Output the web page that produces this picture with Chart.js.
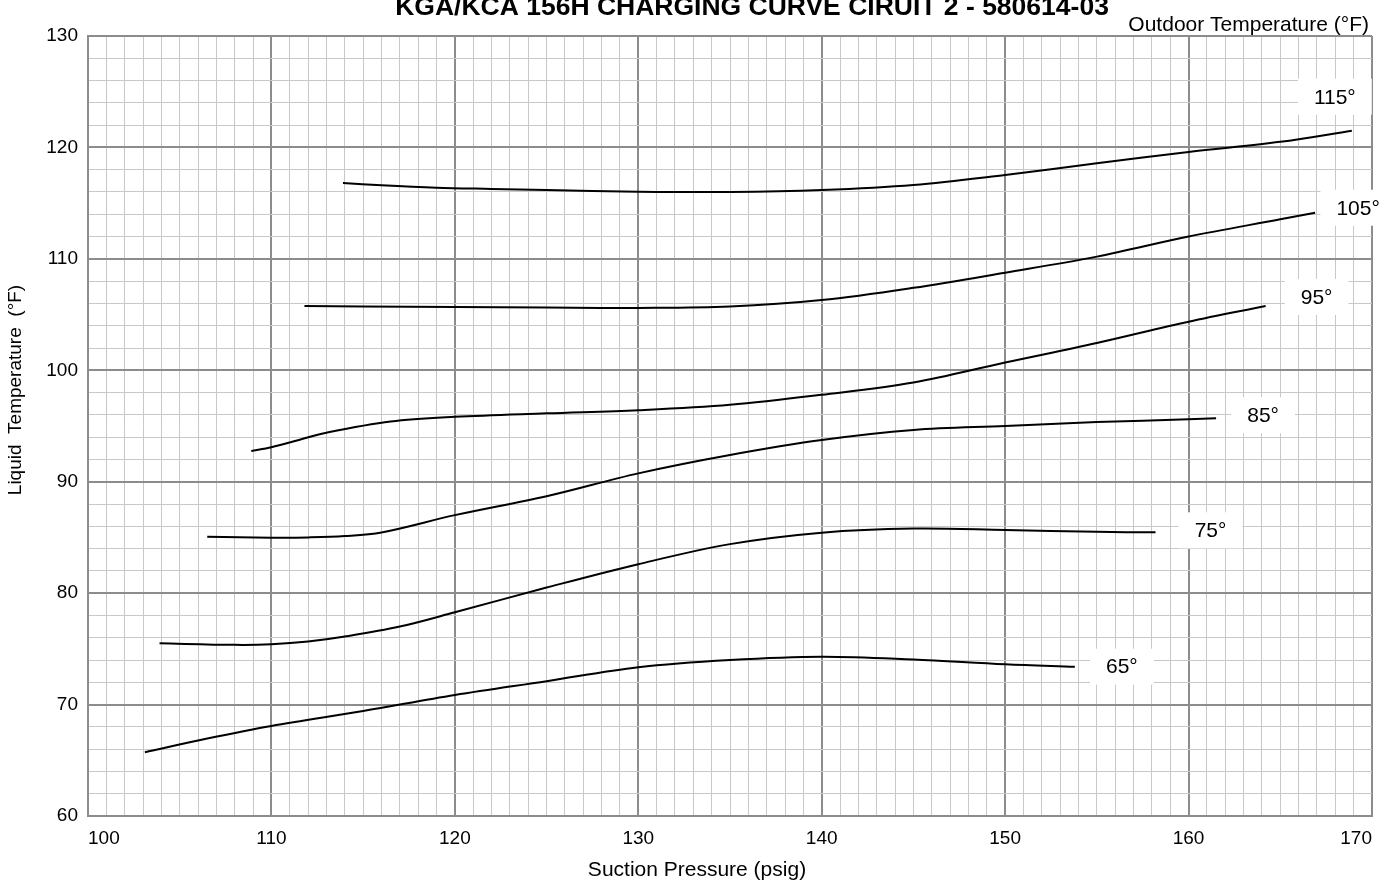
<!DOCTYPE html>
<html>
<head>
<meta charset="utf-8">
<script src="https://cdn.jsdelivr.net/npm/chart.js@4.4.0/dist/chart.umd.min.js"></script>
<style>
  html, body { margin: 0; padding: 0; background: #fff; }
</style>
</head>
<body>
<canvas id="charging-Chart" width="1384" height="880"></canvas>
<script>
// outdoor temperature curves: suction pressure (psig) -> liquid temperature (°F)
const tempLabels = ['115°', '105°', '95°', '85°', '75°', '65°'];

const press115 = [113.9, 116, 119, 122, 125, 130, 135, 140, 145, 150, 155, 160, 165, 168.9];
const liq115   = [116.8, 116.6, 116.39, 116.28, 116.18, 116.03, 116.0, 116.18, 116.63, 117.53, 118.57, 119.6, 120.5, 121.5];

const press105 = [111.8, 115, 120, 125, 130, 135, 140, 145, 150, 155, 160, 165, 166.9];
const liq105   = [105.77, 105.72, 105.68, 105.63, 105.6, 105.72, 106.3, 107.4, 108.76, 110.2, 112.0, 113.55, 114.14];

const press95 = [108.9, 110, 111.5, 113, 116.5, 120, 125, 130, 135, 140, 145, 150, 155, 160, 164.2];
const liq95   = [92.76, 93.1, 93.75, 94.4, 95.4, 95.82, 96.14, 96.42, 96.9, 97.8, 98.9, 100.7, 102.45, 104.36, 105.77];

const press85 = [106.5, 110, 112, 114, 116, 120, 125, 130, 135, 140, 145, 150, 155, 160, 161.5];
const liq85   = [85.07, 84.98, 85.0, 85.12, 85.45, 87.0, 88.7, 90.75, 92.4, 93.74, 94.64, 95.0, 95.35, 95.6, 95.69];

const press75 = [103.9, 108, 110, 112, 114, 117, 120, 125, 130, 135, 140, 145, 150, 155, 158.2];
const liq75   = [75.5, 75.36, 75.41, 75.65, 76.1, 77.0, 78.28, 80.5, 82.6, 84.4, 85.43, 85.8, 85.67, 85.5, 85.46];

const press65 = [103.1, 106.5, 110, 115, 120, 125, 130, 135, 140, 145, 150, 153.8];
const liq65   = [65.72, 66.95, 68.08, 69.42, 70.86, 72.1, 73.35, 74.0, 74.3, 74.05, 73.62, 73.4];

const curves = [
    [press115, liq115], [press105, liq105], [press95, liq95],
    [press85, liq85], [press75, liq75], [press65, liq65]
];

const FONT = 'Liberation Sans, Arial, Helvetica, sans-serif';
const MAJOR = '#8c8c8c';
const MINOR = '#c8c8c8';

// white label boxes next to the end of each curve
const curveLabels = {
    id: 'curveLabels',
    afterDatasetsDraw(chart) {
        const c = chart.ctx;
        const offs = [[-17, -34], [43, -5], [51, -9], [47, -3], [55, -2], [47, 0]];
        c.save();
        c.font = '21px ' + FONT;
        c.textAlign = 'center';
        c.textBaseline = 'middle';
        tempLabels.forEach((txt, i) => {
            const pts = chart.getDatasetMeta(i).data;
            const last = pts[pts.length - 1];
            const x = last.x + offs[i][0];
            const y = last.y + offs[i][1];
            const w = c.measureText(txt).width + 32;
            c.fillStyle = '#fff';
            c.fillRect(x - w / 2, y - 18, w, 36);
            c.fillStyle = '#000';
            c.fillText(txt, x, y + 1);
        });
        c.restore();
    }
};

const extraText = {
    id: 'extraText',
    afterDraw(chart) {
        const c = chart.ctx;
        const ca = chart.chartArea;
        c.save();
        c.fillStyle = '#000';
        c.textBaseline = 'alphabetic';
        c.font = 'bold 26.5px ' + FONT;
        c.textAlign = 'center';
        c.fillText('KGA/KCA 156H CHARGING CURVE CIRUIT 2 - 580614-03', 752, 15);
        c.font = '21px ' + FONT;
        c.textAlign = 'right';
        c.fillText('Outdoor Temperature (°F)', ca.right - 3, 31);
        c.font = '21px ' + FONT;
        c.textAlign = 'center';
        c.fillText('Suction Pressure (psig)', (ca.left + ca.right) / 2 - 33, 876);
        c.translate(16, 390);
        c.rotate(-Math.PI / 2);
        c.font = '19px ' + FONT;
        c.textBaseline = 'middle';
        c.fillText('Liquid  Temperature  (°F)', 0, 0);
        c.restore();
    }
};

const gridColor = ctx => (ctx.tick && ctx.tick.value % 10 === 0) ? MAJOR : MINOR;
const gridWidth = ctx => (ctx.tick && ctx.tick.value % 10 === 0) ? 2 : 1;

const ctx = document.getElementById('charging-Chart').getContext('2d');
const myChart = new Chart(ctx, {
    type: 'scatter',
    data: {
        datasets: curves.map((cv, i) => ({
            label: tempLabels[i],
            data: cv[0].map((p, j) => ({ x: p, y: cv[1][j] })),
            showLine: true,
            borderColor: '#000',
            backgroundColor: '#000',
            borderWidth: 2,
            pointRadius: 0,
            tension: 0.35,
            clip: false
        }))
    },
    options: {
        responsive: false,
        animation: false,
        layout: { padding: { top: 36, right: 12, left: 0, bottom: 0 } },
        plugins: {
            legend: { display: false },
            tooltip: { enabled: false }
        },
        scales: {
            x: {
                type: 'linear',
                min: 100,
                max: 170,
                afterFit: s => { s.height = 64; },
                ticks: {
                    stepSize: 1,
                    autoSkip: false,
                    maxRotation: 0,
                    align: 'inner',
                    padding: 11,
                    color: '#000',
                    font: { family: FONT, size: 19 },
                    callback: v => v % 10 === 0 ? v : ''
                },
                grid: { color: gridColor, lineWidth: gridWidth, drawTicks: false },
                border: { color: MAJOR, width: 2 }
            },
            y: {
                min: 60,
                max: 130,
                afterFit: s => { s.width = 88; },
                ticks: {
                    stepSize: 2,
                    autoSkip: false,
                    padding: 10,
                    color: '#000',
                    font: { family: FONT, size: 19 },
                    callback: v => v % 10 === 0 ? v : ''
                },
                grid: { color: gridColor, lineWidth: gridWidth, drawTicks: false },
                border: { color: MAJOR, width: 2 }
            }
        }
    },
    plugins: [curveLabels, extraText]
});
</script>
</body>
</html>
